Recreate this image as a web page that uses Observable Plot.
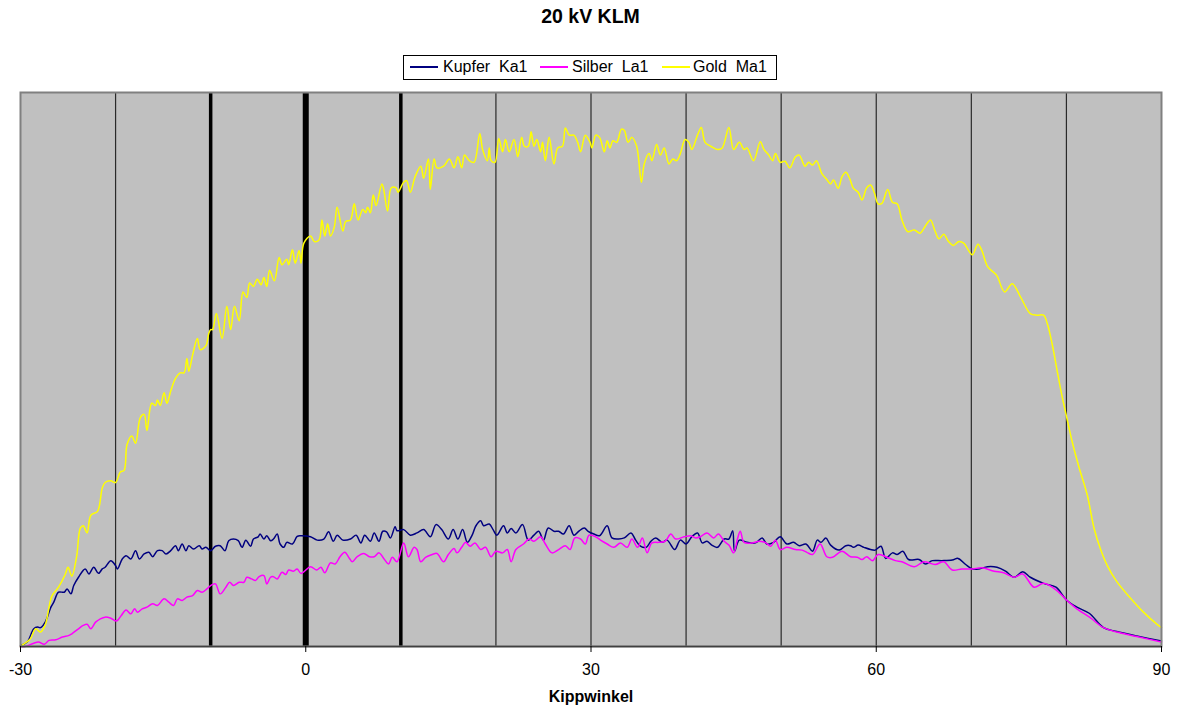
<!DOCTYPE html>
<html><head><meta charset="utf-8">
<script src="https://cdn.jsdelivr.net/npm/d3@7"></script>
<script src="https://cdn.jsdelivr.net/npm/@observablehq/plot@0.6"></script>
<style>
body{margin:0;background:#fff;}
#wrap{position:relative;width:1177px;height:711px;font-family:"Liberation Sans",Arial,sans-serif;}
#title{position:absolute;left:0;top:7px;width:1181px;text-align:center;font-weight:bold;font-size:19.5px;line-height:19px;z-index:2;}
#legend{position:absolute;left:403px;top:55px;width:374px;height:25px;border:1px solid #000;box-sizing:border-box;background:#fff;z-index:2;}
.sw{position:absolute;top:10px;height:2px;width:28px;}
.lb{position:absolute;top:3px;font-size:16px;line-height:16px;white-space:pre;color:#000;}
#wrap svg{position:absolute;left:0;top:0;}
</style></head>
<body>
<div id="wrap">
  <div id="title"></div>
  <div id="legend"></div>
</div>
<script>
const titleText = "20 kV KLM";
const xLabel = "Kippwinkel";
const seriesNames = ["Kupfer  Ka1", "Silber  La1", "Gold  Ma1"];
const seriesColors = ["#000080", "#FF00FF", "#FFFF00"];
const xTicks = [-30, 0, 30, 60, 90];
const gridThin = [-20, 20, 30, 40, 50, 60, 70, 80];
const gridBold = [-10, 10];
const gridZero = [0];

// [Kippwinkel, relative intensity]
const kupfer = [[-30,0.2],[-29.3,0.8],[-28.6,3.2],[-28.2,3.5],[-27.9,3.4],[-27.4,4.4],[-26.8,7.1],[-26.5,8.0],[-26.0,9.8],[-25.4,9.8],[-25.1,10.4],[-24.7,9.5],[-24.4,11.0],[-23.9,12.5],[-23.2,14.0],[-22.8,13.1],[-22.3,14.3],[-21.8,13.2],[-21.4,14.0],[-21.1,14.3],[-20.5,15.5],[-20.0,14.6],[-19.8,14.0],[-19.3,15.8],[-18.9,16.4],[-18.4,15.8],[-17.9,17.3],[-17.5,15.8],[-17.0,16.7],[-16.5,17.0],[-16.1,16.2],[-15.6,17.3],[-15.1,17.3],[-14.7,16.7],[-14.2,17.3],[-13.7,18.2],[-13.4,17.3],[-13.0,18.5],[-12.6,17.3],[-12.3,18.2],[-11.8,17.6],[-11.2,18.2],[-10.9,17.6],[-10.5,17.9],[-10.0,17.3],[-9.5,18.1],[-9.0,18.2],[-8.5,17.3],[-8.1,19.1],[-7.6,19.4],[-7.1,19.1],[-6.7,17.9],[-6.3,19.2],[-5.8,18.1],[-5.5,19.4],[-5.0,19.8],[-4.8,20.3],[-4.4,19.4],[-4.1,20.0],[-3.7,19.1],[-3.4,19.4],[-3.0,20.3],[-2.7,18.5],[-2.3,17.9],[-2.0,18.8],[-1.4,18.5],[-0.9,19.9],[-0.5,20.0],[0.5,19.8],[1.2,19.2],[1.9,19.4],[2.4,20.7],[2.9,19.0],[3.3,20.1],[3.9,19.2],[4.7,19.4],[5.3,20.1],[5.8,18.7],[6.2,20.1],[6.8,19.0],[7.2,20.5],[7.7,19.0],[8.1,20.8],[8.5,20.7],[8.9,19.6],[9.4,21.6],[9.6,20.9],[10.3,21.1],[11.0,20.1],[11.7,20.5],[12.4,21.1],[13.1,19.8],[13.7,22.0],[14.3,21.1],[15.0,19.4],[15.5,21.1],[16.0,19.4],[16.5,21.1],[17.0,18.8],[17.5,20.1],[17.9,21.8],[18.4,22.7],[18.7,21.8],[19.3,22.1],[19.7,21.1],[20.1,20.1],[20.8,21.8],[21.2,20.5],[21.6,21.3],[22.1,20.5],[22.8,22.0],[23.4,19.2],[24.0,20.1],[24.5,20.8],[25.0,19.2],[25.5,21.4],[26.1,20.8],[26.6,20.8],[27.1,20.3],[27.7,21.8],[28.2,20.1],[28.7,20.8],[29.3,21.4],[29.7,20.8],[30.3,20.3],[30.9,20.0],[31.7,21.8],[32.2,19.6],[32.9,19.4],[33.5,19.6],[34.2,20.5],[34.7,19.2],[35.2,18.1],[35.8,17.9],[36.3,19.0],[36.8,19.6],[37.5,18.8],[38.0,19.2],[38.8,17.5],[39.4,19.2],[40.0,18.5],[40.6,19.8],[41.2,20.5],[41.7,18.7],[42.2,19.0],[42.7,18.3],[43.3,17.9],[44.0,19.4],[44.5,19.4],[44.9,20.9],[45.1,17.2],[45.6,19.2],[46.4,18.8],[47.3,18.7],[48.0,19.6],[48.5,18.5],[49.2,18.8],[49.9,19.8],[50.6,18.5],[51.3,18.8],[51.9,18.2],[52.6,18.5],[53.3,17.2],[53.8,19.2],[54.2,18.8],[54.7,19.6],[55.2,18.3],[56.1,17.4],[56.8,18.2],[57.3,18.2],[57.6,17.9],[58.1,18.3],[58.7,17.9],[59.4,17.5],[59.9,17.4],[60.5,18.1],[61.0,15.9],[61.7,16.9],[62.2,16.6],[62.8,17.2],[63.4,15.7],[64.5,15.7],[65.2,14.9],[65.9,15.5],[66.9,15.5],[68.0,15.6],[68.6,15.9],[69.4,14.8],[70.1,14.0],[70.8,14.0],[71.7,14.4],[72.7,14.3],[73.6,13.6],[74.5,12.5],[75.4,13.5],[76.2,12.5],[77.6,11.4],[78.9,10.7],[80.0,8.4],[81.1,7.1],[82.4,6.0],[83.9,3.4],[85.3,2.7],[87.4,1.9],[90.0,1.0]];

const silber = [[-30,0],[-29.5,0],[-28.6,0.6],[-28.1,0.8],[-27.5,0.4],[-27.0,1.1],[-26.3,1.2],[-25.6,1.7],[-24.9,2.0],[-24.6,2.3],[-23.9,3.2],[-23.4,3.8],[-23.0,4.0],[-22.6,3.2],[-22.1,4.4],[-21.6,5.0],[-21.1,5.3],[-20.5,5.1],[-19.9,4.6],[-19.4,5.6],[-18.9,6.6],[-18.4,5.9],[-18.0,6.8],[-17.7,6.2],[-17.2,6.8],[-16.7,7.1],[-16.1,7.7],[-15.6,7.4],[-14.9,8.6],[-14.4,8.0],[-13.9,7.4],[-13.5,8.6],[-13.0,8.3],[-12.5,8.9],[-11.9,9.2],[-11.4,10.1],[-10.9,9.8],[-10.4,10.4],[-10.0,11.0],[-9.5,11.3],[-9.0,9.5],[-8.4,10.7],[-8.0,11.6],[-7.6,11.0],[-7.0,11.6],[-6.5,11.6],[-6.2,12.5],[-5.7,12.2],[-5.3,11.9],[-4.9,12.6],[-4.4,12.8],[-4.1,11.3],[-3.7,12.5],[-3.4,12.6],[-3.0,12.2],[-2.5,13.4],[-2.1,13.0],[-1.8,13.8],[-1.3,13.6],[-0.9,14.0],[-0.5,13.2],[0.5,14.4],[1.15,13.8],[1.6,14.3],[2.0,13.3],[2.6,15.1],[3.1,14.9],[3.6,16.2],[4.1,17.0],[4.6,15.9],[4.9,15.3],[5.4,16.2],[6.1,16.8],[6.7,16.2],[7.2,16.2],[7.7,16.9],[8.2,15.9],[8.7,14.9],[9.1,16.1],[9.6,15.3],[10.3,18.7],[10.8,16.2],[11.4,17.9],[11.7,17.5],[12.1,15.3],[12.6,16.1],[13.3,16.6],[13.8,16.8],[14.5,15.3],[15.0,16.6],[15.6,17.7],[15.9,16.9],[16.4,17.9],[16.8,18.8],[17.3,18.1],[17.8,18.7],[18.4,17.5],[18.9,17.9],[19.5,16.2],[20.0,17.2],[20.7,16.9],[21.2,17.5],[21.6,15.3],[22.1,17.5],[22.9,18.5],[23.5,19.4],[24.0,19.0],[24.7,19.8],[25.2,18.5],[25.9,16.9],[26.6,17.5],[27.3,18.2],[27.8,17.5],[28.3,19.6],[28.9,19.4],[29.4,18.5],[29.8,20.1],[30.5,19.8],[31.0,19.2],[31.7,18.5],[32.4,17.9],[33.1,18.7],[33.8,17.9],[34.3,19.4],[34.9,17.9],[35.4,19.6],[35.9,16.9],[36.4,18.7],[37.1,18.8],[37.8,19.0],[38.4,20.3],[38.9,19.4],[39.8,19.8],[40.5,20.0],[41.0,19.6],[41.5,19.8],[42.2,20.5],[42.9,19.6],[43.4,20.3],[44.0,19.0],[44.5,18.3],[45.0,16.9],[45.4,19.4],[45.7,20.8],[46.1,18.8],[47.0,18.7],[47.7,19.0],[48.4,18.7],[48.9,18.1],[49.4,19.2],[49.9,17.5],[50.6,17.9],[51.5,17.5],[52.2,17.4],[52.7,17.0],[53.3,16.6],[54.1,18.5],[54.8,16.2],[55.4,16.1],[56.4,17.2],[57.3,16.2],[58.0,16.1],[58.5,15.7],[59.0,16.2],[59.6,15.5],[60.2,16.6],[61.0,16.2],[62.0,15.5],[62.7,15.3],[64.0,14.4],[65.0,15.3],[66.2,14.8],[67.1,15.3],[68.0,13.8],[69.0,14.0],[70.1,14.0],[71.1,14.2],[72.4,13.6],[73.4,13.3],[74.5,12.5],[75.4,13.1],[76.6,10.7],[77.6,11.4],[79.0,10.1],[80.0,8.4],[81.1,6.8],[82.5,5.2],[83.9,3.4],[85.3,2.6],[87.4,1.8],[90.0,0.8]];

const gold = [[-30,0],[-29.8,0.3],[-29.0,1.3],[-28.4,3.2],[-27.9,2.6],[-27.4,3.9],[-26.7,9.1],[-26.0,10.7],[-25.3,13.0],[-25.0,14.3],[-24.6,12.7],[-24.1,16.2],[-23.7,21.4],[-23.4,21.8],[-23.0,20.5],[-22.6,23.7],[-21.9,24.4],[-21.4,28.6],[-21.1,29.6],[-20.5,29.9],[-20.0,29.6],[-19.5,31.5],[-19.1,31.8],[-18.8,36.4],[-18.3,38.0],[-17.9,36.7],[-17.4,41.3],[-17.0,41.9],[-16.7,39.0],[-16.2,43.9],[-15.8,43.5],[-15.6,44.5],[-15.3,43.5],[-14.9,45.8],[-14.6,43.9],[-14.2,46.1],[-13.7,48.4],[-13.2,49.4],[-12.8,49.4],[-12.5,52.0],[-12.3,49.7],[-11.9,52.6],[-11.4,55.6],[-11.1,53.6],[-10.5,54.3],[-10.2,56.5],[-10.0,57.2],[-9.8,57.2],[-9.4,60.1],[-8.8,55.6],[-8.3,61.4],[-7.9,57.2],[-7.5,61.4],[-7.0,58.8],[-6.6,64.0],[-6.2,63.0],[-5.9,65.6],[-5.5,65.0],[-5.1,66.3],[-4.7,65.3],[-4.4,66.6],[-4.1,65.0],[-3.8,67.9],[-3.3,66.0],[-2.8,70.2],[-2.5,68.9],[-2.0,69.9],[-1.8,68.9],[-1.4,71.6],[-1.1,69.2],[-0.7,71.5],[-0.5,69.2],[-0.2,72.8],[0.5,74.1],[0.9,73.1],[1.4,73.4],[1.7,77.0],[2.0,74.1],[2.3,76.3],[2.6,74.1],[3.0,75.7],[3.3,79.3],[3.9,75.0],[4.2,76.7],[4.7,77.0],[5.1,79.9],[5.5,77.0],[6.0,78.9],[6.3,78.3],[6.5,79.3],[6.8,78.3],[7.1,81.5],[7.4,79.6],[8.0,83.5],[8.2,82.5],[8.6,78.6],[9.0,82.8],[9.5,82.8],[9.7,82.0],[10.3,83.8],[10.6,84.1],[11.0,82.0],[11.5,84.8],[12.1,86.7],[12.4,84.5],[12.9,88.0],[13.1,82.5],[13.5,88.0],[13.8,86.4],[14.5,86.7],[15.1,88.0],[15.6,86.4],[16.0,88.4],[16.4,86.4],[16.7,88.7],[17.2,87.7],[17.7,87.4],[18.3,92.6],[18.6,89.7],[19.1,87.7],[19.3,90.0],[19.5,87.7],[19.9,87.4],[20.3,91.7],[20.7,89.3],[21.0,91.5],[21.4,89.3],[21.9,91.5],[22.3,88.4],[22.7,91.9],[23.0,90.3],[23.4,90.3],[23.7,92.9],[24.0,90.3],[24.3,91.5],[24.7,89.3],[24.9,91.0],[25.2,87.7],[25.6,91.9],[26.1,87.1],[26.5,90.0],[27.0,90.3],[27.3,93.6],[27.7,92.3],[28.2,92.3],[28.6,91.0],[28.9,89.3],[29.4,92.3],[29.9,91.0],[30.1,90.0],[30.5,92.3],[30.9,91.9],[31.4,89.3],[31.7,91.3],[32.0,90.0],[32.3,91.3],[32.7,91.0],[33.2,93.4],[33.5,93.2],[33.9,91.0],[34.3,91.9],[34.8,90.3],[35.3,83.8],[35.6,87.1],[36.1,89.0],[36.4,87.7],[36.9,90.6],[37.3,88.7],[37.7,90.0],[38.2,87.1],[38.6,88.0],[39.0,87.7],[39.4,89.0],[39.9,91.5],[40.3,91.0],[40.6,89.7],[41.2,92.3],[41.6,93.7],[42.0,91.0],[42.6,90.3],[43.3,89.7],[43.8,90.0],[44.5,93.7],[45.0,89.7],[45.6,91.0],[46.1,89.7],[46.4,90.0],[47.1,87.7],[47.8,91.1],[48.2,89.7],[48.7,88.7],[49.1,87.7],[49.4,89.0],[49.9,87.4],[50.4,87.6],[50.9,86.4],[51.5,88.4],[51.9,88.7],[52.5,86.7],[52.9,87.4],[53.3,86.9],[53.7,87.7],[54.3,85.3],[54.8,84.3],[55.2,83.5],[55.5,84.2],[56.0,82.7],[56.4,84.8],[56.8,85.6],[57.2,84.5],[57.6,82.7],[58.1,82.0],[58.5,80.6],[59.0,82.8],[59.4,83.3],[59.8,81.9],[60.2,79.9],[60.6,80.0],[61.2,82.5],[61.7,80.2],[62.2,79.9],[62.7,77.0],[63.3,74.9],[64.0,75.2],[64.6,74.6],[65.2,76.0],[65.7,77.0],[66.2,74.9],[66.6,73.6],[67.1,74.4],[67.6,73.1],[68.1,72.4],[68.7,73.1],[69.2,72.8],[69.7,71.5],[70.1,70.7],[70.7,72.6],[71.1,71.5],[71.7,68.6],[72.3,67.6],[72.7,66.9],[73.5,64.0],[74.3,65.5],[75.2,63.0],[76.2,60.1],[76.9,59.8],[77.6,59.8],[78.0,58.2],[78.5,54.6],[79.0,50.0],[79.5,45.5],[80.0,41.6],[80.6,37.0],[81.3,32.5],[82.2,27.3],[82.9,21.4],[83.6,17.5],[84.3,14.6],[85.3,11.7],[86.7,8.8],[88.1,6.2],[89.6,3.9],[90.0,3.4]];

const seriesData = [kupfer, silber, gold];

// title & legend
document.getElementById("title").textContent = titleText;
const legend = document.getElementById("legend");
const swLeft = [6, 136, 258];
const lbLeft = [39, 168, 289];
seriesNames.forEach((name, i) => {
  const sw = document.createElement("div");
  sw.className = "sw"; sw.style.left = swLeft[i] + "px"; sw.style.background = seriesColors[i];
  legend.appendChild(sw);
  const lb = document.createElement("div");
  lb.className = "lb"; lb.style.left = lbLeft[i] + "px"; lb.textContent = name;
  legend.appendChild(lb);
});

const lineMarks = seriesData.map((data, i) =>
  Plot.line(data, {x: d => d[0], y: d => d[1], stroke: seriesColors[i], strokeWidth: 1.5, curve: "catmull-rom"})
);

const chart = Plot.plot({
  width: 1177,
  height: 711,
  marginTop: 92,
  marginBottom: 65,
  marginLeft: 20,
  marginRight: 16,
  style: {background: "transparent", fontFamily: "'Liberation Sans', Arial, sans-serif", fontSize: "16px", color: "#000", overflow: "visible"},
  x: {domain: [-30, 90]},
  y: {domain: [0, 100], axis: null},
  marks: [
    Plot.frame({fill: "#C0C0C0", stroke: null}),
    Plot.ruleX(gridThin, {stroke: "#2a2a2a", strokeWidth: 1.2}),
    Plot.ruleX(gridBold, {stroke: "#000", strokeWidth: 3.5}),
    Plot.ruleX(gridZero, {stroke: "#000", strokeWidth: 6}),
    ...lineMarks,
    Plot.frame({stroke: "#808080", strokeWidth: 2}),
    Plot.ruleY([0], {stroke: "#404040", strokeWidth: 1.5}),
    Plot.axisX({ticks: xTicks, tickSize: 6, tickPadding: 11, label: null, fontSize: 16, tickFormat: d => String(d)}),
    Plot.text([xLabel], {text: d => d, frameAnchor: "bottom", dy: 55, fontWeight: "bold", fontSize: 16})
  ]
});
document.getElementById("wrap").appendChild(chart);
</script>
</body></html>
